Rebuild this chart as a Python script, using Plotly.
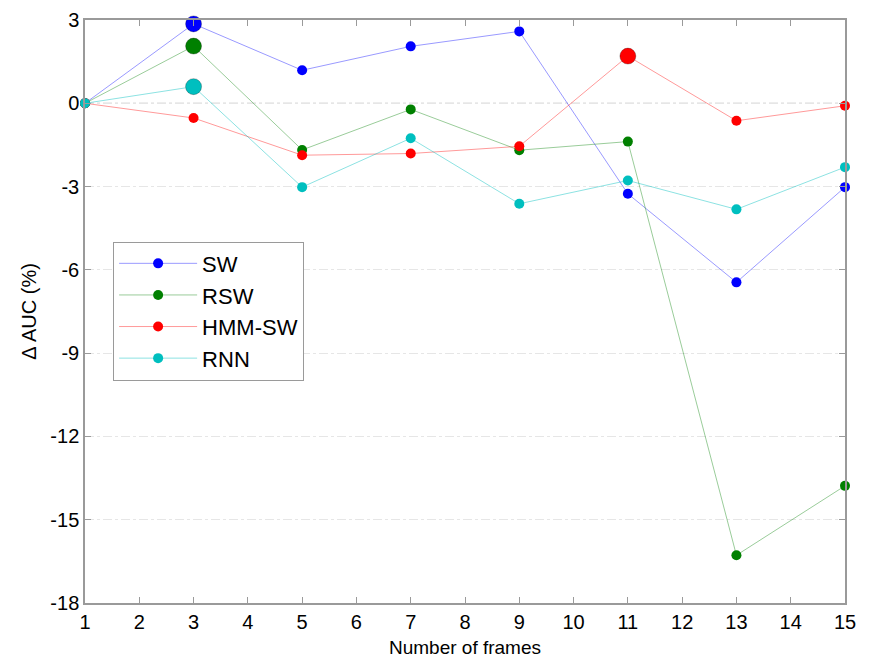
import plotly.graph_objects as go

frames = [1, 3, 5, 7, 9, 11, 13, 15]
sw = [0, 2.86, 1.19, 2.05, 2.59, -3.26, -6.45, -3.02]
rsw = [0, 2.06, -1.68, -0.22, -1.69, -1.38, -16.28, -13.78]
hmm_sw = [0, -0.53, -1.87, -1.81, -1.55, 1.70, -0.63, -0.09]
rnn = [0, 0.60, -3.02, -1.26, -3.62, -2.78, -3.82, -2.30]

series = [
    ("SW", sw, "#0000FF", "rgba(0,0,255,0.4)"),
    ("RSW", rsw, "#008000", "rgba(0,128,0,0.4)"),
    ("HMM-SW", hmm_sw, "#FF0000", "rgba(255,0,0,0.4)"),
    ("RNN", rnn, "#00BFBF", "rgba(0,191,191,0.45)"),
]

y_ticks = [3, 0, -3, -6, -9, -12, -15, -18]
y_ticktext = ["3", "0", "-3", "-6", "-9", "-12", "-15", "-18"]
x_ticks = list(range(1, 16))

fig = go.Figure()
for name, vals, mc, lc in series:
    fig.add_trace(go.Scatter(
        x=frames, y=vals, name=name, mode="lines+markers",
        line=dict(color=lc, width=1),
        marker=dict(color=mc, size=10),
        cliponaxis=False,
    ))
for name, vals, mc, lc in series:
    i = max(range(len(vals)), key=lambda k: vals[k])
    fig.add_trace(go.Scatter(
        x=[frames[i]], y=[vals[i]], mode="markers", showlegend=False,
        marker=dict(color=mc, size=16, line=dict(color="rgba(0,0,0,0.25)", width=1)),
        hoverinfo="skip", cliponaxis=False,
    ))

fig.add_shape(type="line", xref="paper", x0=0, x1=1, yref="y", y0=0, y1=0,
              line=dict(color="#aaaaaa", width=1, dash="dashdot"), layer="below")

axis_common = dict(
    showline=True, linecolor="#9a9a9a", linewidth=1.5, mirror="ticks",
    ticks="inside", ticklen=6, tickcolor="#9a9a9a",
    tickfont=dict(family="Liberation Sans, Arial", size=20, color="black"),
    zeroline=False, automargin=False,
)

fig.update_layout(
    width=870, height=658,
    margin=dict(l=85, r=25, t=20, b=55),
    paper_bgcolor="white", plot_bgcolor="white",
    font=dict(family="Liberation Sans, Arial", color="black"),
    xaxis=dict(range=[1, 15], tickvals=x_ticks, showgrid=False,
               title=dict(text="Number of frames", font=dict(size=19), standoff=10),
               **axis_common),
    yaxis=dict(range=[-18, 3], tickvals=y_ticks, ticktext=y_ticktext, showgrid=True,
               gridcolor="#e6e6e6", griddash="dashdot", gridwidth=1,
               title=dict(text="Δ AUC (%)", font=dict(size=20), standoff=8),
               **axis_common),
    legend=dict(x=0.037, y=0.62, xanchor="left", yanchor="top",
                bordercolor="#9a9a9a", borderwidth=1, bgcolor="white",
                font=dict(size=22, family="Liberation Sans, Arial"),
                itemwidth=78, tracegroupgap=0),
    showlegend=True,
)

fig.write_html("out.html")
